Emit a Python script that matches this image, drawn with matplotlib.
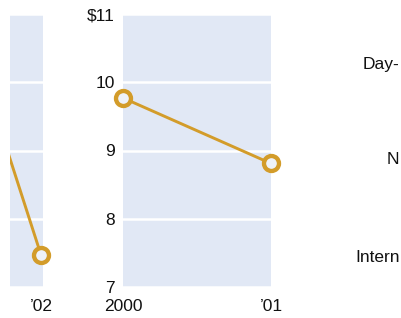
import matplotlib
matplotlib.use("Agg")
import matplotlib.pyplot as plt

plt.rcParams['font.family'] = ['Liberation Sans', 'DejaVu Sans']

# data
left_years = [2001, 2002]
left_values = [14.2, 7.47]
left_ticklabels = ["’02"]

mid_years = [2000, 2001]
mid_values = [9.77, 8.81]
mid_ticklabels = ["2000", "’01"]

y_ticks = [7, 8, 9, 10, 11]
y_ticklabels = ["7", "8", "9", "10", "$11"]

side_labels = ["Day-", "N", "Intern"]

W, H = 401, 318
fig = plt.figure(figsize=(W / 100, H / 100), dpi=100)

panel = "#E1E8F5"
gold = "#D39C2A"
fs = 12.5

def px_axes(x0, x1, y0, y1):
    return fig.add_axes([x0 / W, 1 - y1 / H, (x1 - x0) / W, (y1 - y0) / H])

def style(ax):
    ax.set_facecolor(panel)
    for s in ax.spines.values():
        s.set_visible(False)
    ax.set_ylim(7, 11)
    ax.set_yticks(y_ticks)
    ax.grid(axis='y', color='white', linewidth=1.8)
    ax.set_axisbelow(True)
    ax.tick_params(length=0, labelsize=fs, colors='#111111')

def draw(ax, xs, ys, marker_idx):
    ax.plot(xs, ys, color=gold, linewidth=2.1, zorder=3)
    mx = [xs[i] for i in marker_idx]
    my = [ys[i] for i in marker_idx]
    ax.plot(mx, my, linestyle='none', marker='o', markersize=10.8,
            markeredgewidth=3.1, markeredgecolor=gold, markerfacecolor="#EEF2F9",
            clip_on=False, zorder=4)

# left (cropped) panel
axl = px_axes(10, 43, 14, 287)
style(axl)
draw(axl, left_years, left_values, [1])
axl.set_xlim(2002 - 31 / 148, 2002 + 2 / 148)
axl.set_xticks([2002])
axl.set_xticklabels(left_ticklabels)
axl.set_yticklabels([])
axl.tick_params(axis='x', pad=8.5)

# middle panel
axm = px_axes(123, 271, 14, 287)
style(axm)
draw(axm, mid_years, mid_values, [0, 1])
axm.set_xlim(2000, 2001)
axm.set_xticks(mid_years)
axm.set_xticklabels(mid_ticklabels)
axm.set_yticklabels(y_ticklabels)
axm.tick_params(axis='y', pad=6)
axm.tick_params(axis='x', pad=8.5)

# right side labels (cut off by figure edge)
for (x, y), t in zip([(363, 64), (387, 160), (355, 258)], side_labels):
    fig.text(x / W, 1 - y / H, t, ha='left', va='center', fontsize=fs, color='#111111')

fig.savefig("out.png", dpi=100)
